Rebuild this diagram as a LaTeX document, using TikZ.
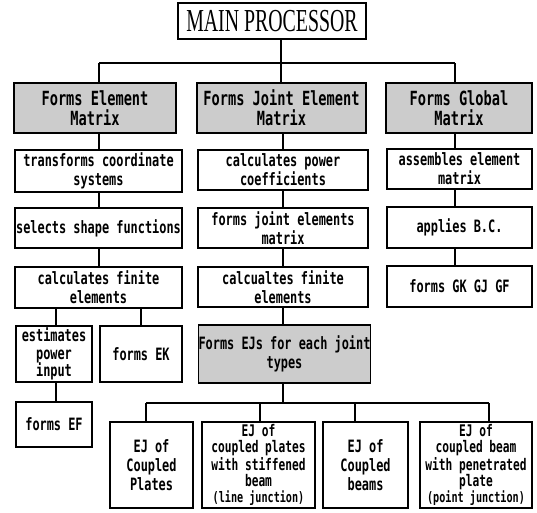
\documentclass[tikz,border=0pt]{standalone}
\usepackage{fontspec}
\newfontfamily\bodyfont[FakeStretch=0.70]{DejaVu Sans Mono}
\newfontfamily\mainprocfont[FakeStretch=0.62]{Liberation Serif}
\begin{document}
\begin{tikzpicture}[x=1pt,y=-1pt,
  box/.style={draw, line width=1.3pt, fill=white, inner sep=0pt, align=center,
    font=\bodyfont\bfseries\fontsize{17}{19}\selectfont},
  hdr/.style={box, fill=black!20, font=\bodyfont\bfseries\fontsize{19.5}{20}\selectfont},
  tight/.style={font=\bodyfont\bfseries\fontsize{16}{16}\selectfont},
  conn/.style={line width=1.1pt}]
\useasboundingbox (0,0) rectangle (537,512);

% main
\node[draw, line width=1.3pt, inner sep=0pt, minimum width=188pt, minimum height=36pt,
  font=\mainprocfont\fontsize{32}{32}\selectfont] (main) at (272,21) {MAIN PROCESSOR};

% headers
\node[hdr, minimum width=162pt, minimum height=50pt] (h1) at (95,108) {Forms Element\\Matrix};
\node[hdr, minimum width=169pt, minimum height=50pt] (h2) at (281.5,108) {Forms Joint Element\\Matrix};
\node[hdr, minimum width=146pt, minimum height=50pt] (h3) at (459,108) {Forms Global\\Matrix};

% column 1
\node[box, minimum width=167pt, minimum height=42pt] (a1) at (98.5,171) {transforms coordinate\\systems};
\node[box, minimum width=167pt, minimum height=40pt] (a2) at (98.5,228) {selects shape functions};
\node[box, minimum width=167pt, minimum height=41pt] (a3) at (98.5,287.5) {calculates finite\\elements};
\node[box, minimum width=76pt, minimum height=56pt, font=\bodyfont\bfseries\fontsize{17}{17.5}\selectfont] (a4) at (54,354) {estimates\\power\\input};
\node[box, minimum width=82pt, minimum height=56pt] (a5) at (141,354) {forms EK};
\node[box, minimum width=76pt, minimum height=45pt] (a6) at (54,424.5) {forms EF};

% column 2
\node[box, minimum width=170pt, minimum height=40pt] (b1) at (283,170) {calculates power\\coefficients};
\node[box, minimum width=170pt, minimum height=40pt] (b2) at (283,228) {forms joint elements\\matrix};
\node[box, minimum width=170pt, minimum height=40pt] (b3) at (283,287) {calcualtes finite\\elements};
\node[hdr, minimum width=171pt, minimum height=58pt, font=\bodyfont\bfseries\fontsize{17}{19}\selectfont] (b4) at (284.5,354) {Forms EJs for each joint\\types};

% column 3
\node[box, minimum width=145pt, minimum height=40pt] (c1) at (459.5,169) {assembles element\\matrix};
\node[box, minimum width=145pt, minimum height=41pt] (c2) at (459.5,227.5) {applies B.C.};
\node[box, minimum width=145pt, minimum height=41pt] (c3) at (459.5,286.5) {forms GK GJ GF};

% bottom row
\node[box, minimum width=83pt, minimum height=86pt] (e1) at (151.5,465) {EJ of\\Coupled\\Plates};
\node[box, tight, minimum width=113pt, minimum height=86pt] (e2) at (258.5,465) {EJ of\\coupled plates\\with stiffened\\beam\\{\fontsize{14.5}{14.5}\selectfont(line junction)}};
\node[box, minimum width=85pt, minimum height=86pt] (e3) at (365.5,465) {EJ of\\Coupled\\beams};
\node[box, tight, minimum width=112pt, minimum height=86pt] (e4) at (476,465) {EJ of\\coupled beam\\with penetrated\\plate\\{\fontsize{14.5}{14.5}\selectfont(point junction)}};

% top bus
\coordinate (tbus) at (281,63);
\coordinate (tl) at (99,63);
\coordinate (tr) at (455,63);
\draw[conn] (main.south -| tbus) -- (tbus);
\draw[conn] (tl) -- (tr);
\draw[conn] (tl) -- (tl |- h1.north);
\draw[conn] (tbus) -- (tbus |- h2.north);
\draw[conn] (tr) -- (tr |- h3.north);

% column connectors
\coordinate (x1) at (99,0);
\coordinate (x2) at (283,0);
\coordinate (x3) at (455,0);
\draw[conn] (h1.south -| x1) -- (a1.north -| x1);
\draw[conn] (a1.south -| x1) -- (a2.north -| x1);
\draw[conn] (a2.south -| x1) -- (a3.north -| x1);
\coordinate (xe) at (56,0);
\draw[conn] (a3.south -| xe) -- (a4.north -| xe);
\draw[conn] (a4.south -| xe) -- (a6.north -| xe);
\draw[conn] (a3.south -| a5) -- (a5.north);

\draw[conn] (h2.south -| x2) -- (b1.north -| x2);
\draw[conn] (b1.south -| x2) -- (b2.north -| x2);
\draw[conn] (b2.south -| x2) -- (b3.north -| x2);
\draw[conn] (b3.south -| x2) -- (b4.north -| x2);

\draw[conn] (h3.south -| x3) -- (c1.north -| x3);
\draw[conn] (c1.south -| x3) -- (c2.north -| x3);
\draw[conn] (c2.south -| x3) -- (c3.north -| x3);

% bottom bus
\coordinate (bbus) at (283,403);
\coordinate (d1) at (146,403);
\coordinate (d2) at (260,403);
\coordinate (d3) at (355,403);
\coordinate (d4) at (489,403);
\draw[conn] (b4.south -| bbus) -- (bbus);
\draw[conn] (d1) -- (d4);
\draw[conn] (d1) -- (d1 |- e1.north);
\draw[conn] (d2) -- (d2 |- e2.north);
\draw[conn] (d3) -- (d3 |- e3.north);
\draw[conn] (d4) -- (d4 |- e4.north);
\end{tikzpicture}
\end{document}
